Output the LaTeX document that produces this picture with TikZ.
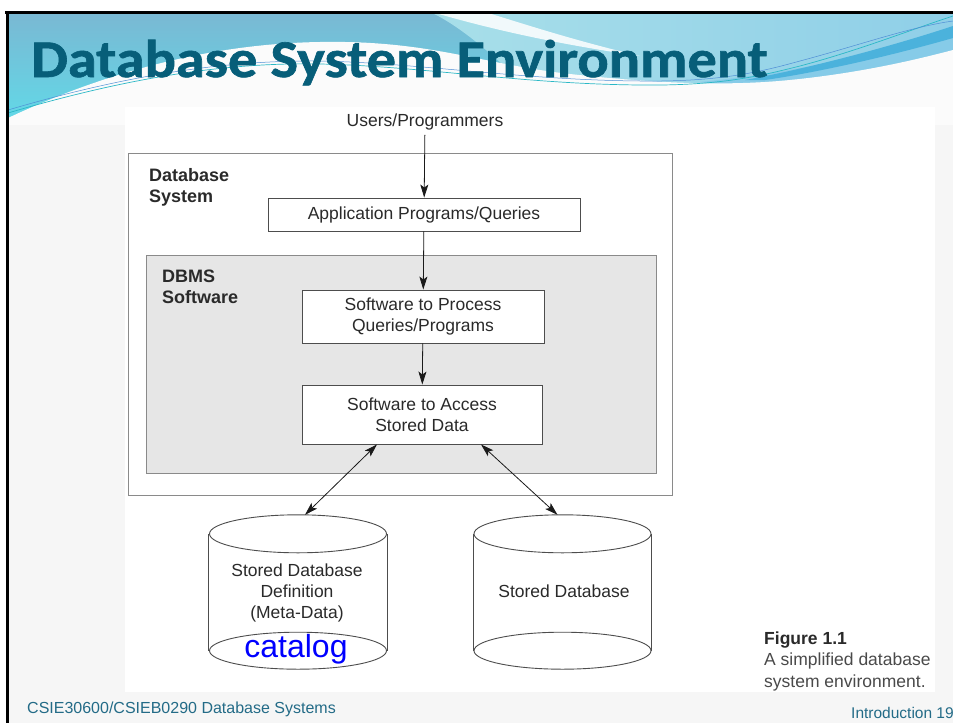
\documentclass[tikz,border=0pt]{standalone}
\usepackage{fontspec}
\setmainfont{Liberation Sans}
\newfontfamily\titlefont{Carlito}[FakeStretch=1.1, FakeBold=1.2]
\usetikzlibrary{arrows.meta}

\definecolor{slidebg}{HTML}{F6F6F6}
\definecolor{hdtop}{HTML}{7AB8D3}
\definecolor{hdbot}{HTML}{62D8E7}
\definecolor{hdlightA}{HTML}{A8DFE9}
\definecolor{hdlightB}{HTML}{8FCFE8}
\definecolor{bandblue}{HTML}{4BB2DC}
\definecolor{bandlight}{HTML}{86CBE8}
\definecolor{titleblue}{HTML}{075E79}
\definecolor{footblue}{HTML}{236B87}
\definecolor{txt}{HTML}{2A2A2A}
\definecolor{boxline}{HTML}{4D4D4D}
\definecolor{frameline}{HTML}{8A8A8A}
\definecolor{dbmsfill}{HTML}{E6E6E6}
\definecolor{arrowc}{HTML}{1A1A1A}
\definecolor{linkteal}{HTML}{2BB8C6}
\definecolor{linkblue}{HTML}{4F8ED6}

\tikzset{
  lbl/.style={font=\fontsize{17.5}{21}\selectfont, text=txt, inner sep=0pt, align=center},
  hdr/.style={font=\fontsize{18}{21}\selectfont\bfseries, text=txt, inner sep=0pt, align=left, anchor=north west},
  stepbox/.style={lbl, draw=boxline, line width=0.9pt, fill=white},
  layer/.style={draw=frameline, line width=1pt, inner sep=0pt},
  cylside/.style={draw=boxline, line width=0.9pt},
  flow/.style={draw=arrowc, line width=0.8pt, -{Stealth[length=13pt,width=8pt,inset=3pt]}},
  twoway/.style={draw=arrowc, line width=0.8pt, {Stealth[length=13pt,width=8pt,inset=3pt]}-{Stealth[length=13pt,width=8pt,inset=3pt]}},
  foot/.style={font=\fontsize{16}{18}\selectfont, text=footblue, inner sep=0pt, anchor=base west},
}

\begin{document}
\begin{tikzpicture}[x=1pt,y=-1pt]
\useasboundingbox (0,0) rectangle (953,723);
\fill[white] (0,0) rectangle (953,723);
\fill[slidebg] (8,12) rectangle (953,723);

% ---- header waves ----
\shade[top color=hdtop, bottom color=hdbot] (8,12) rectangle (953,120);
\shade[left color=hdlightA, right color=hdlightB]
  (430,12) -- (953,12) -- (953,120) -- (560,120) .. controls (520,80) and (470,30) .. (430,12) -- cycle;
\fill[bandlight] (700,82) .. controls (800,72) and (880,52) .. (953,34) -- (953,56) .. controls (880,70) and (800,82) .. (720,84) -- cycle;
\fill[white!55!slidebg]
  (8,118) .. controls (80,84) and (190,44) .. (320,42)
  .. controls (430,40) and (480,64) .. (570,74)
  .. controls (660,84) and (730,86) .. (790,80)
  .. controls (860,73) and (915,60) .. (953,50)
  -- (953,125) -- (8,125) -- cycle;
\fill[bandblue] (745,80) .. controls (800,70) and (880,50) .. (953,26) -- (953,38) .. controls (890,56) and (820,72) .. (765,80) -- cycle;
\fill[white, opacity=0.85] (432,12) -- (485,12) .. controls (530,26) and (580,42) .. (640,56) .. controls (570,46) and (500,32) .. (432,12) -- cycle;
\draw[linkteal, line width=0.7pt] (8,113) .. controls (120,80) and (220,62) .. (320,64) .. controls (420,66) and (520,84) .. (640,85) .. controls (720,86) and (760,76) .. (800,66) .. controls (860,50) and (910,30) .. (953,16);
\draw[linkblue, line width=0.5pt] (8,110) .. controls (120,77) and (220,60) .. (320,61) .. controls (420,63) and (520,80) .. (640,81) .. controls (720,82) and (760,72) .. (800,61) .. controls (860,45) and (910,27) .. (953,21);

\node[font=\titlefont\fontsize{53}{60}\selectfont\bfseries, text=titleblue, inner sep=0pt, anchor=base west] (title) at (31,77) {Database System Environment};

% ---- figure panel ----
\fill[white] (125,107) rectangle (935,692);

\node[layer, fill=white, minimum width=544pt, minimum height=342pt] (dbsys) at (400,324) {};
\node[hdr] (dbsyslbl) at (149,168) {Database\\System};

\node[layer, fill=dbmsfill, minimum width=510pt, minimum height=218pt] (dbms) at (401,364) {};
\node[hdr] (dbmslbl) at (162,270) {DBMS\\Software};

\node[lbl, anchor=base] (users) at (425,126) {Users/Programmers};
\node[stepbox, minimum width=312pt, minimum height=33pt] (app) at (424,214.5) {Application Programs/Queries};
\node[stepbox, minimum width=242pt, minimum height=53pt] (proc) at (423,316.5) {Software to Process\\Queries/Programs};
\node[stepbox, minimum width=240pt, minimum height=59pt] (acc) at (422,414.5) {Software to Access\\Stored Data};

% cylinders
\node[inner sep=0pt, minimum width=178pt, minimum height=154pt] (cyl1) at (298,592) {};
\node[inner sep=0pt, minimum width=177pt, minimum height=154pt] (cyl2) at (562.5,592) {};
\foreach \c in {cyl1,cyl2}{
  \fill[white] ([yshift=-19pt]\c.north west) rectangle ([yshift=18.5pt]\c.south east);
  \draw[cylside] ([yshift=18.5pt]\c.south) ellipse [x radius=88.5pt, y radius=18.5pt];
  \draw[cylside, fill=white] ([yshift=-19pt]\c.north) ellipse [x radius=88.5pt, y radius=19pt];
  \draw[cylside] ([yshift=-19pt]\c.north west) -- ([yshift=18.5pt]\c.south west);
  \draw[cylside] ([yshift=-19pt]\c.north east) -- ([yshift=18.5pt]\c.south east);
}
\node[lbl] (defn) at (297,593) {Stored Database\\Definition\\(Meta-Data)};
\node[font=\fontsize{32}{36}\selectfont, text=blue, inner sep=0pt, anchor=base] (catalog) at (296,657) {catalog};
\node[lbl, anchor=base] (stored) at (564,597) {Stored Database};

% connectors
\draw[flow, shorten <=5pt] (users) -- (app);
\draw[flow] (app) -- (proc);
\draw[flow] (proc) -- (acc);
\draw[twoway] ([xshift=-45pt]acc.south) -- ([xshift=7pt]cyl1.north);
\draw[twoway] ([xshift=59pt]acc.south) -- ([xshift=-5pt]cyl2.north);

% caption
\node[lbl, align=left, anchor=north west, font=\fontsize{17.5}{21.5}\selectfont, text=txt!85] (caption) at (764,631.5)
  {\textbf{\color{txt}Figure 1.1}\\A simplified database\\system environment.};

% footer
\node[foot] (course) at (27,713) {CSIE30600/CSIEB0290 Database Systems};
\node[foot, font=\fontsize{15.5}{18}\selectfont] (pageno) at (851,718) {Introduction 19};

% slide frame
\draw[black, line width=2.8pt] (5,12.5) -- (953,12.5);
\draw[black, line width=3.2pt] (7.5,11) -- (7.5,723);
\end{tikzpicture}
\end{document}
